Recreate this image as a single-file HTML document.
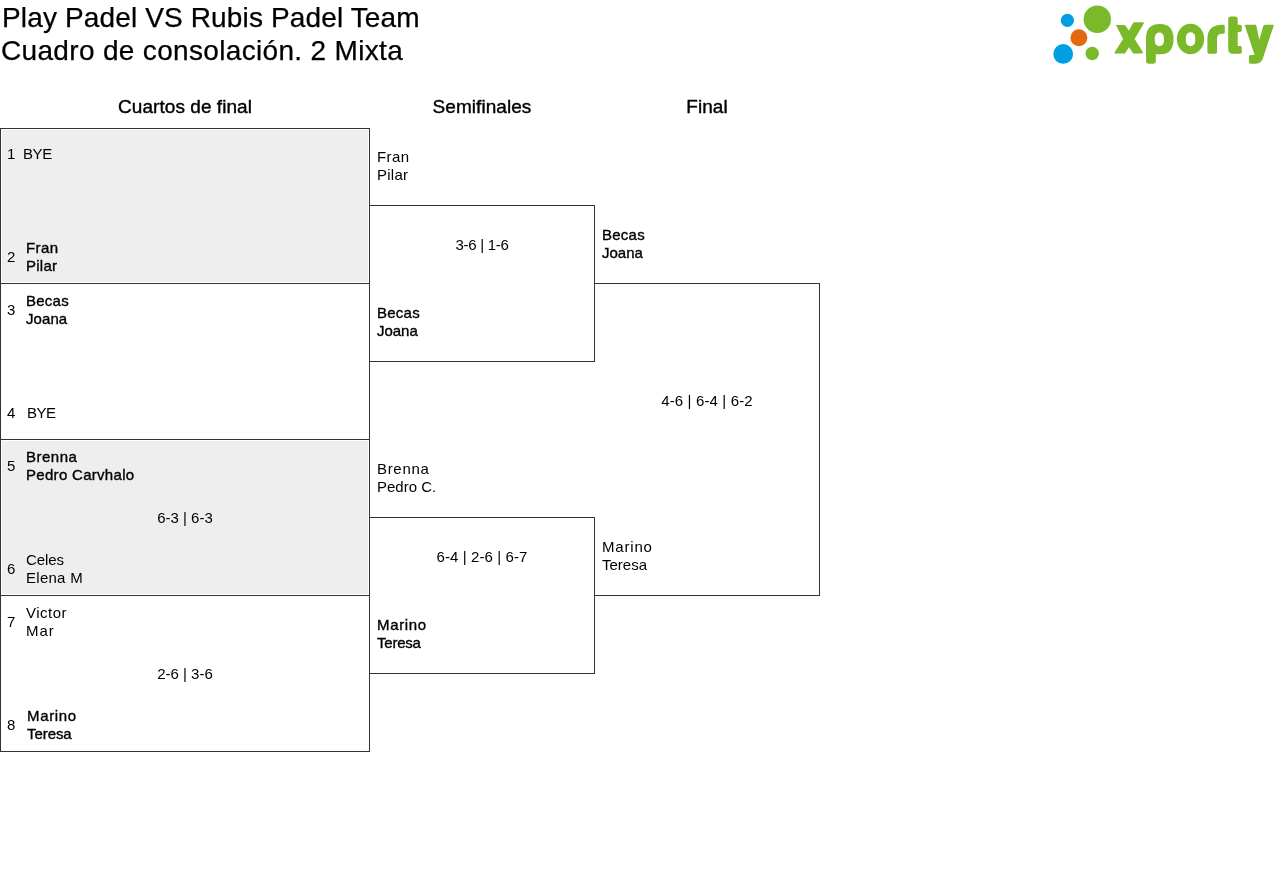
<!DOCTYPE html>
<html><head><meta charset="utf-8">
<style>
html,body{margin:0;padding:0;background:#fff;}
body{width:1280px;height:883px;position:relative;overflow:hidden;will-change:transform;font-family:"Liberation Sans",sans-serif;color:#000;}
.t{position:absolute;white-space:pre;}
.title{font-size:28px;line-height:32px;left:1px;-webkit-text-stroke:0.25px #000;}
.hd{font-size:19px;line-height:20px;text-align:center;letter-spacing:0.05px;-webkit-text-stroke:0.4px #000;}
.c{font-size:15px;line-height:18px;}
.b{-webkit-text-stroke:0.35px #000;letter-spacing:0.25px;}
.box{position:absolute;box-sizing:border-box;border:1px solid #333;}
.gray{position:absolute;background:#eee;}
</style></head><body>
<div class="t title" style="top:2px;left:2px;letter-spacing:0.14px">Play Padel VS Rubis Padel Team</div>
<div class="t title" style="top:35px;letter-spacing:0.33px">Cuadro de consolación. 2 Mixta</div>

<svg style="position:absolute;left:0;top:0" width="1280" height="80">
 <circle cx="1067.4" cy="20.4" r="6.6" fill="#009fe3"/>
 <circle cx="1097.3" cy="19.2" r="13.7" fill="#7ab929"/>
 <circle cx="1078.9" cy="37.7" r="8.5" fill="#e2690e"/>
 <circle cx="1063.2" cy="53.9" r="9.9" fill="#009fe3"/>
 <circle cx="1092.2" cy="53.5" r="6.7" fill="#7ab929"/>
<g fill="#7ab929">
 <path d="M1115.9,25.1 L1124.9,25.1 L1128.9,30.4 L1133.4,22.6 Q1134,22.3 1135,22.3 L1143.2,22.3 Q1144.3,22.8 1143.7,23.8 L1134.6,39.1 L1142.8,52.1 Q1143.2,53.4 1142,53.4 L1133.3,53.4 L1129,47.2 L1124.9,53.4 L1115.2,53.4 Q1114,53.2 1114.6,52.2 L1123.1,39.1 Z"/>
 <path d="M1146.1,54.3 L1146.1,38 Q1146.1,24.1 1160,24.1 Q1173.5,24.1 1173.5,39.2 Q1173.5,54.3 1160,54.3 Z"/>
 <path d="M1146.1,38 L1146.1,61 Q1146.1,63.7 1149,63.7 L1153,63.7 Q1155.8,63.7 1155.8,61 L1155.8,38 Z"/>
 <ellipse cx="1190.5" cy="39.05" rx="13.7" ry="15.25"/>
 <path d="M1207.4,52 L1207.4,38.8 Q1207.4,24.8 1222.3,24.8 L1223.3,24.8 Q1224.8,24.8 1224.8,26.5 L1224.8,32.2 Q1224.8,33.8 1223.2,33.8 L1222.3,33.8 Q1217,33.8 1217,38.5 L1217,52 Q1217,53.7 1215.4,53.7 L1209,53.7 Q1207.4,53.7 1207.4,52 Z"/>
 <path d="M1228.2,19 Q1228.2,16.4 1231,16.4 L1235,16.4 Q1237.7,16.4 1237.7,19 L1237.7,24.8 L1239.8,24.8 Q1241.8,24.8 1241.8,26.8 L1241.8,30 Q1241.8,31.9 1239.9,31.9 L1237.7,31.9 L1237.7,45.9 L1240.3,45.9 Q1241.8,45.9 1241.8,47.5 L1241.8,52 Q1241.8,53.7 1240.3,53.7 L1233,53.7 Q1228.2,53.7 1228.2,49 Z"/>
 <path d="M1245.6,24.8 L1255,24.8 Q1256,24.8 1256.3,25.8 L1259.3,39.7 L1263.2,26.2 Q1263.7,24.8 1265,24.8 L1273,24.8 Q1274,25 1273.6,26 L1263,58 Q1261.2,63.7 1256,63.7 L1250.5,63.7 Q1249,63.7 1249,62 L1249,56.6 Q1249,55 1250.5,55 L1254.6,55 L1245,26 Q1244.8,24.8 1245.6,24.8 Z"/>
</g>
<g fill="#fff">
 <rect x="1154.8" y="32.5" width="9.1" height="13.7" rx="4.5" ry="5"/>
 <rect x="1185.9" y="32.2" width="9.3" height="14" rx="4.6" ry="5"/>
</g>
</svg>

<div class="t hd" style="left:0;width:370px;top:97px">Cuartos de final</div>
<div class="t hd" style="left:369px;width:226px;top:97px">Semifinales</div>
<div class="t hd" style="left:594px;width:226px;top:97px">Final</div>

<!-- QF boxes -->
<div class="box" style="left:0;top:128px;width:370px;height:156px"></div>
<div class="gray" style="left:2px;top:130px;width:366px;height:152px"></div>
<div class="box" style="left:0;top:283px;width:370px;height:157px"></div>
<div class="box" style="left:0;top:439px;width:370px;height:157px"></div>
<div class="gray" style="left:2px;top:441px;width:366px;height:153px"></div>
<div class="box" style="left:0;top:595px;width:370px;height:157px"></div>
<!-- SF boxes -->
<div class="box" style="left:369px;top:205px;width:226px;height:157px"></div>
<div class="box" style="left:369px;top:517px;width:226px;height:157px"></div>
<!-- Final box -->
<div class="box" style="left:594px;top:283px;width:226px;height:313px;border-left:0"></div>

<!-- QF text -->
<div class="t c" style="left:7px;top:145px">1</div>
<div class="t c" style="left:23px;top:145px;letter-spacing:-0.38px">BYE</div>

<div class="t c" style="left:7px;top:248px">2</div>
<div class="t c b" style="left:26px;top:239px;letter-spacing:0.4px">Fran</div>
<div class="t c b" style="left:26px;top:257px">Pilar</div>

<div class="t c" style="left:7px;top:301px">3</div>
<div class="t c b" style="left:26px;top:292px">Becas</div>
<div class="t c b" style="left:26px;top:310px;letter-spacing:0.08px">Joana</div>

<div class="t c" style="left:7px;top:404px">4</div>
<div class="t c" style="left:27px;top:404px;letter-spacing:-0.55px">BYE</div>

<div class="t c" style="left:7px;top:457px">5</div>
<div class="t c b" style="left:26px;top:448px;letter-spacing:0.5px">Brenna</div>
<div class="t c b" style="left:26px;top:466px;letter-spacing:0.3px">Pedro Carvhalo</div>
<div class="t c" style="left:0;width:370px;text-align:center;top:509px">6-3 | 6-3</div>
<div class="t c" style="left:7px;top:560px">6</div>
<div class="t c" style="left:26px;top:551px;letter-spacing:-0.1px">Celes</div>
<div class="t c" style="left:26px;top:569px;letter-spacing:0.27px">Elena M</div>

<div class="t c" style="left:7px;top:613px">7</div>
<div class="t c" style="left:26px;top:604px;letter-spacing:0.48px">Victor</div>
<div class="t c" style="left:26px;top:622px;letter-spacing:0.9px">Mar</div>
<div class="t c" style="left:0;width:370px;text-align:center;top:665px">2-6 | 3-6</div>
<div class="t c" style="left:7px;top:716px">8</div>
<div class="t c b" style="left:27px;top:707px;letter-spacing:0.67px">Marino</div>
<div class="t c b" style="left:27px;top:725px;letter-spacing:-0.07px">Teresa</div>

<!-- SF text -->
<div class="t c" style="left:377px;top:148px;letter-spacing:0.43px">Fran</div>
<div class="t c" style="left:377px;top:166px;letter-spacing:0.25px">Pilar</div>
<div class="t c" style="left:369px;width:226px;text-align:center;top:236px;letter-spacing:-0.3px">3-6 | 1-6</div>
<div class="t c b" style="left:377px;top:304px">Becas</div>
<div class="t c b" style="left:377px;top:322px;letter-spacing:-0.02px">Joana</div>

<div class="t c" style="left:377px;top:460px;letter-spacing:0.68px">Brenna</div>
<div class="t c" style="left:377px;top:478px">Pedro C.</div>
<div class="t c" style="left:369px;width:226px;text-align:center;top:548px;letter-spacing:0.09px">6-4 | 2-6 | 6-7</div>
<div class="t c b" style="left:377px;top:616px;letter-spacing:0.67px">Marino</div>
<div class="t c b" style="left:377px;top:634px;letter-spacing:-0.23px">Teresa</div>

<!-- Final text -->
<div class="t c b" style="left:602px;top:226px">Becas</div>
<div class="t c b" style="left:602px;top:244px;letter-spacing:0px">Joana</div>
<div class="t c" style="left:594px;width:226px;text-align:center;top:392px;letter-spacing:0.14px">4-6 | 6-4 | 6-2</div>
<div class="t c" style="left:602px;top:538px;letter-spacing:0.82px">Marino</div>
<div class="t c" style="left:602px;top:556px">Teresa</div>
</body></html>
